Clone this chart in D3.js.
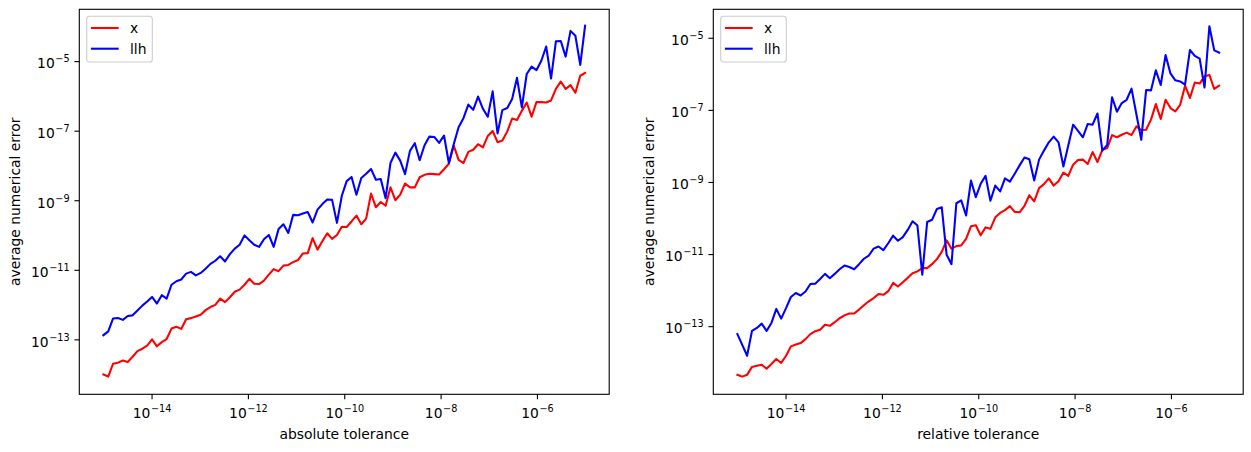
<!DOCTYPE html>
<html><head><meta charset="utf-8">
<script src="https://cdn.jsdelivr.net/npm/d3@7"></script>
<style>body{margin:0;background:#fff} svg{display:block} text{font-family:"DejaVu Sans",sans-serif;fill:#000}</style>
</head><body><svg id="c" width="1251" height="452"></svg>
<script>
// tolerance (x) as log10 exponents
const toleranceExp = [-15.0000,-14.8990,-14.7980,-14.6970,-14.5960,-14.4949,-14.3939,-14.2929,-14.1919,-14.0909,
-13.9899,-13.8889,-13.7879,-13.6869,-13.5859,-13.4848,-13.3838,-13.2828,-13.1818,-13.0808,
-12.9798,-12.8788,-12.7778,-12.6768,-12.5758,-12.4747,-12.3737,-12.2727,-12.1717,-12.0707,
-11.9697,-11.8687,-11.7677,-11.6667,-11.5657,-11.4646,-11.3636,-11.2626,-11.1616,-11.0606,
-10.9596,-10.8586,-10.7576,-10.6566,-10.5556,-10.4545,-10.3535,-10.2525,-10.1515,-10.0505,
-9.9495,-9.8485,-9.7475,-9.6465,-9.5455,-9.4444,-9.3434,-9.2424,-9.1414,-9.0404,
-8.9394,-8.8384,-8.7374,-8.6364,-8.5354,-8.4343,-8.3333,-8.2323,-8.1313,-8.0303,
-7.9293,-7.8283,-7.7273,-7.6263,-7.5253,-7.4242,-7.3232,-7.2222,-7.1212,-7.0202,
-6.9192,-6.8182,-6.7172,-6.6162,-6.5152,-6.4141,-6.3131,-6.2121,-6.1111,-6.0101,
-5.9091,-5.8081,-5.7071,-5.6061,-5.5051,-5.4040,-5.3030,-5.2020,-5.1010,-5.0000];

// average numerical error, log10 values
const absX = [-14.01,-14.07,-13.70,-13.67,-13.61,-13.65,-13.50,-13.34,-13.27,-13.18,
-13.00,-13.20,-13.08,-12.99,-12.69,-12.64,-12.70,-12.42,-12.39,-12.34,
-12.29,-12.16,-12.07,-12.01,-11.83,-11.93,-11.79,-11.63,-11.57,-11.43,
-11.26,-11.40,-11.41,-11.31,-11.14,-10.98,-11.04,-10.88,-10.86,-10.78,
-10.72,-10.53,-10.52,-10.09,-10.42,-10.18,-9.95,-10.11,-10.00,-9.76,
-9.77,-9.61,-9.44,-9.69,-9.53,-8.81,-9.20,-9.05,-9.16,-8.63,
-9.00,-8.84,-8.52,-8.63,-8.63,-8.34,-8.27,-8.24,-8.25,-8.26,
-8.11,-7.95,-7.43,-7.84,-7.93,-7.61,-7.55,-7.39,-7.48,-7.15,
-7.01,-7.33,-7.28,-7.02,-6.65,-6.69,-6.43,-6.19,-6.60,-6.18,
-6.18,-6.19,-6.13,-5.80,-5.59,-5.80,-5.69,-5.91,-5.42,-5.34];
const absLlh = [-12.88,-12.77,-12.40,-12.385,-12.44,-12.33,-12.31,-12.17,-12.03,-11.91,
-11.78,-11.97,-11.73,-11.83,-11.43,-11.33,-11.28,-11.11,-11.06,-11.16,
-11.09,-10.97,-10.83,-10.74,-10.61,-10.76,-10.55,-10.39,-10.28,-10.01,
-10.15,-10.28,-10.34,-10.12,-10.00,-10.34,-9.83,-9.69,-9.94,-9.42,
-9.43,-9.38,-9.34,-9.64,-9.27,-9.11,-8.98,-8.99,-9.65,-8.87,
-8.45,-8.33,-8.84,-8.36,-8.24,-8.10,-8.41,-8.39,-8.94,-7.93,
-7.63,-7.86,-8.25,-7.58,-7.36,-7.85,-7.42,-7.17,-7.18,-7.35,
-7.14,-7.93,-7.39,-6.90,-6.64,-6.25,-6.40,-6.02,-6.37,-6.60,
-5.87,-7.08,-6.41,-6.35,-6.09,-5.48,-6.33,-5.37,-5.16,-5.26,
-4.99,-4.58,-5.50,-4.43,-4.42,-4.87,-4.13,-4.27,-5.11,-3.98];
const relX = [-14.35,-14.40,-14.35,-14.13,-14.10,-14.07,-14.18,-14.05,-13.91,-14.02,
-13.82,-13.56,-13.51,-13.47,-13.36,-13.22,-13.14,-13.10,-12.96,-12.99,
-12.89,-12.78,-12.70,-12.65,-12.65,-12.54,-12.42,-12.31,-12.22,-12.11,
-12.13,-12.03,-11.80,-11.90,-11.78,-11.66,-11.53,-11.48,-11.39,-11.39,
-11.28,-11.14,-10.94,-10.62,-10.85,-10.78,-10.76,-10.58,-10.23,-10.20,
-10.48,-10.26,-10.30,-9.98,-9.86,-9.78,-9.67,-9.83,-9.84,-9.66,
-9.37,-9.54,-9.17,-9.06,-8.90,-9.10,-8.98,-8.74,-8.83,-8.52,
-8.39,-8.38,-8.50,-8.17,-8.45,-8.11,-8.06,-7.70,-7.76,-7.69,
-7.63,-7.70,-7.46,-7.56,-7.55,-7.27,-6.84,-7.25,-6.72,-6.95,
-7.04,-6.86,-6.33,-6.67,-6.24,-6.27,-6.07,-6.03,-6.42,-6.33];
const relLlh = [-13.22,-13.52,-13.82,-13.13,-13.05,-12.93,-13.13,-12.91,-12.52,-12.79,
-12.50,-12.19,-12.08,-12.15,-12.04,-11.83,-11.82,-11.69,-11.55,-11.67,
-11.55,-11.42,-11.32,-11.36,-11.42,-11.28,-11.13,-11.04,-10.85,-10.79,
-10.89,-10.70,-10.49,-10.63,-10.53,-10.33,-10.09,-10.21,-11.57,-10.11,
-10.05,-9.75,-9.70,-11.02,-11.28,-9.59,-9.51,-9.93,-8.96,-9.42,
-9.05,-8.83,-9.52,-9.10,-9.26,-8.90,-8.99,-8.77,-8.54,-8.32,
-8.37,-8.96,-8.38,-8.13,-7.90,-7.74,-7.90,-8.57,-7.99,-7.41,
-7.58,-7.76,-7.39,-7.41,-7.10,-8.13,-7.97,-6.65,-7.05,-6.81,
-6.72,-6.41,-7.12,-7.83,-6.45,-6.46,-5.90,-6.31,-5.48,-5.99,
-6.18,-6.21,-6.30,-5.34,-5.50,-5.58,-6.38,-4.68,-5.35,-5.41];

const xTickExp = [-14,-12,-10,-8,-6];
const yTickExp = [-13,-11,-9,-7,-5];
const seriesNames = ["x","llh"];
const seriesColors = ["#ff0000","#0000ff"];
const xLabels = ["absolute tolerance","relative tolerance"];
const yLabel = "average numerical error";

(function(){
const svg = d3.select("#c");
const topY = 9.3, bottomY = 394.3, W = 529.9;
const panels = [
  {left:79.3, xlabel:xLabels[0], yDom:[-14.58,-3.51], data:[absX,absLlh], ylx:19.5},
  {left:713.3, xlabel:xLabels[1], yDom:[-14.89,-4.21], data:[relX,relLlh], ylx:653.5}
];
const tol = toleranceExp.map(e => Math.pow(10,e));
const FS = 13.89, SUP = 9.7, TL = 4.86;

function sup(sel, e) {
  sel.append("tspan").text("10");
  sel.append("tspan").attr("dy",-6).attr("font-size",SUP).attr("dx",0.6).text("\u2212"+Math.abs(e));
}

panels.forEach(p => {
  const x = d3.scaleLog().domain([Math.pow(10,-15.5),Math.pow(10,-4.5)]).range([p.left,p.left+W]);
  const y = d3.scaleLog().domain([Math.pow(10,p.yDom[0]),Math.pow(10,p.yDom[1])]).range([bottomY,topY]);
  const g = svg.append("g");

  p.data.forEach((s,k) => {
    const line = d3.line().x((d,i)=>x(tol[i])).y(d=>y(Math.pow(10,d)));
    g.append("path").datum(s).attr("d",line).attr("fill","none")
      .attr("stroke",seriesColors[k]).attr("stroke-width",2.08)
      .attr("stroke-linejoin","round").attr("stroke-linecap","square");
  });

  const ax = g.append("g").attr("transform",`translate(0,${bottomY})`)
    .call(d3.axisBottom(x).tickValues(xTickExp.map(e=>Math.pow(10,e))).tickSize(TL).tickFormat(""));
  ax.select(".domain").remove();
  ax.selectAll(".tick line").attr("stroke","#000").attr("stroke-width",1.1);
  ax.selectAll(".tick").each(function(d){
    const t = d3.select(this).append("text").attr("y",24).attr("text-anchor","middle")
      .attr("font-size",FS).attr("fill","#000");
    sup(t, Math.round(Math.log10(d)));
  });
  const ay = g.append("g").attr("transform",`translate(${p.left},0)`)
    .call(d3.axisLeft(y).tickValues(yTickExp.map(e=>Math.pow(10,e))).tickSize(TL).tickFormat(""));
  ay.select(".domain").remove();
  ay.selectAll(".tick line").attr("stroke","#000").attr("stroke-width",1.1);
  ay.selectAll(".tick").each(function(d){
    const t = d3.select(this).append("text").attr("x",-9.7).attr("y",6.8).attr("text-anchor","end")
      .attr("font-size",FS).attr("fill","#000");
    sup(t, Math.round(Math.log10(d)));
  });

  g.append("rect").attr("x",p.left).attr("y",topY).attr("width",W).attr("height",bottomY-topY)
    .attr("fill","none").attr("stroke","#000").attr("stroke-width",1.1);

  g.append("text").attr("x",p.left+W/2).attr("y",439).attr("text-anchor","middle")
    .attr("font-size",FS).text(p.xlabel);
  g.append("text").attr("transform",`translate(${p.ylx},${(topY+bottomY)/2}) rotate(-90)`)
    .attr("text-anchor","middle").attr("font-size",FS).text(yLabel);

  const lg = g.append("g").attr("transform",`translate(${p.left},0)`);
  lg.append("rect").attr("x",7.4).attr("y",16.3).attr("width",65.6).attr("height",45.7).attr("rx",2.8)
    .attr("fill","#fff").attr("fill-opacity",0.8).attr("stroke","#cccccc").attr("stroke-width",1.1);
  seriesNames.forEach((n,k) => {
    const yy = 28 + k*20.7;
    lg.append("line").attr("x1",11.6).attr("x2",39.4).attr("y1",yy).attr("y2",yy)
      .attr("stroke",seriesColors[k]).attr("stroke-width",2.08);
    lg.append("text").attr("x",50.7).attr("y",yy+4.8).attr("font-size",FS).text(n);
  });
});
})();
</script></body></html>
